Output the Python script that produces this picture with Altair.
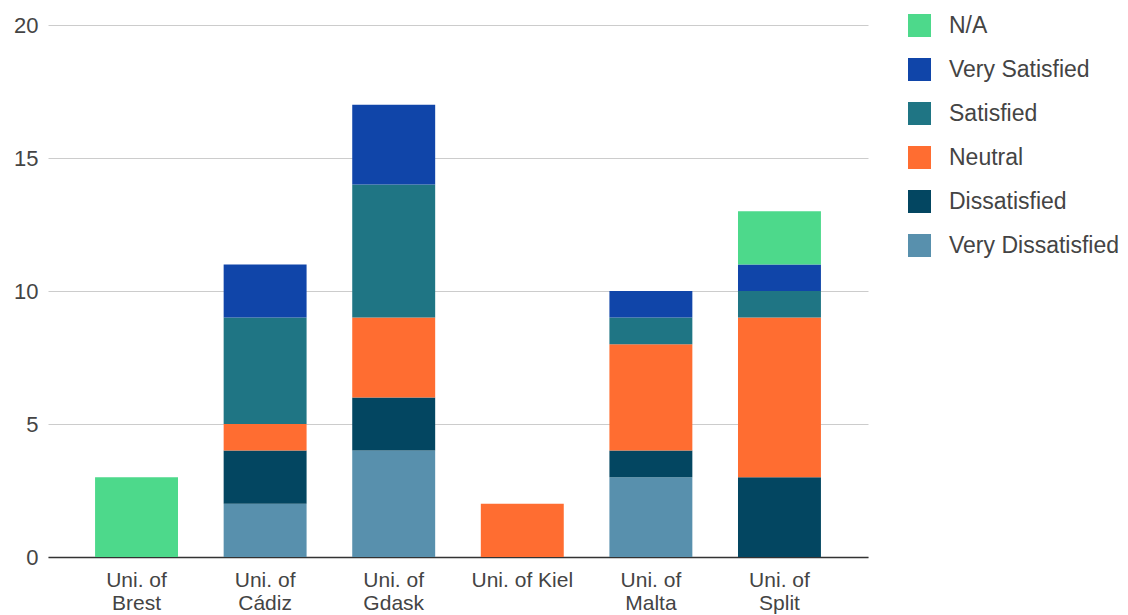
import altair as alt
import pandas as pd

# Universities along the x axis
universities = ["Uni. of Brest", "Uni. of Cádiz", "Uni. of Gdask",
                "Uni. of Kiel", "Uni. of Malta", "Uni. of Split"]

# Responses per satisfaction level, one value per university
very_dissatisfied = [0, 2, 4, 0, 3, 0]
dissatisfied = [0, 2, 2, 0, 1, 3]
neutral = [0, 1, 3, 2, 4, 6]
satisfied = [0, 4, 5, 0, 1, 1]
very_satisfied = [0, 2, 3, 0, 1, 1]
not_applicable = [3, 0, 0, 0, 0, 2]

# Bottom-to-top stacking order
levels = ["Very Dissatisfied", "Dissatisfied", "Neutral",
          "Satisfied", "Very Satisfied", "N/A"]
series = [very_dissatisfied, dissatisfied, neutral,
          satisfied, very_satisfied, not_applicable]
colors = {
    "N/A": "#4dd98b",
    "Very Satisfied": "#1045a9",
    "Satisfied": "#1f7584",
    "Neutral": "#ff6d31",
    "Dissatisfied": "#034661",
    "Very Dissatisfied": "#5890ad",
}
legend_order = ["N/A", "Very Satisfied", "Satisfied", "Neutral",
                "Dissatisfied", "Very Dissatisfied"]

rows = []
for rank, (level, values) in enumerate(zip(levels, series)):
    for uni, v in zip(universities, values):
        if v > 0:
            rows.append({"university": uni, "level": level, "count": v, "rank": rank})
df = pd.DataFrame(rows)

FONT = "Liberation Sans"
TEXT = "#444444"

chart = alt.Chart(df).mark_bar().encode(
    x=alt.X(
        "university:N",
        sort=universities,
        title=None,
        scale=alt.Scale(paddingInner=0.355, paddingOuter=0.366),
        axis=alt.Axis(
            labelAngle=0,
            ticks=False,
            grid=False,
            domainColor="#333333",
            domainWidth=1.5,
            labelFont=FONT,
            labelFontSize=21,
            labelColor=TEXT,
            labelPadding=12,
            labelLineHeight=23,
            labelExpr="datum.label == 'Uni. of Kiel' ? datum.label : ['Uni. of', substring(datum.label, 8)]",
        ),
    ),
    y=alt.Y(
        "count:Q",
        stack="zero",
        title=None,
        scale=alt.Scale(domain=[0, 20], nice=False),
        axis=alt.Axis(
            values=[0, 5, 10, 15, 20],
            domain=False,
            ticks=False,
            gridColor="#cccccc",
            gridWidth=1,
            labelFont=FONT,
            labelFontSize=22,
            labelColor=TEXT,
            labelPadding=10,
        ),
    ),
    color=alt.Color(
        "level:N",
        scale=alt.Scale(domain=legend_order, range=[colors[k] for k in legend_order]),
        legend=alt.Legend(
            title=None,
            orient="none",
            legendX=860,
            legendY=-11,
            symbolType="square",
            symbolSize=529,
            symbolStrokeWidth=0,
            symbolOpacity=1,
            labelFont=FONT,
            labelFontSize=23,
            labelColor=TEXT,
            labelOffset=18,
            labelLimit=400,
            rowPadding=20,
        ),
    ),
    order=alt.Order("rank:Q", sort="ascending"),
).properties(
    width=820,
    height=532,
    autosize=alt.AutoSizeParams(type="none"),
    padding={"left": 48, "top": 25, "right": 260, "bottom": 58},
).configure(
    background="white",
    view=alt.ViewConfig(stroke=None),
)

chart.save("out.html", embed_options={"renderer": "svg", "actions": False})
